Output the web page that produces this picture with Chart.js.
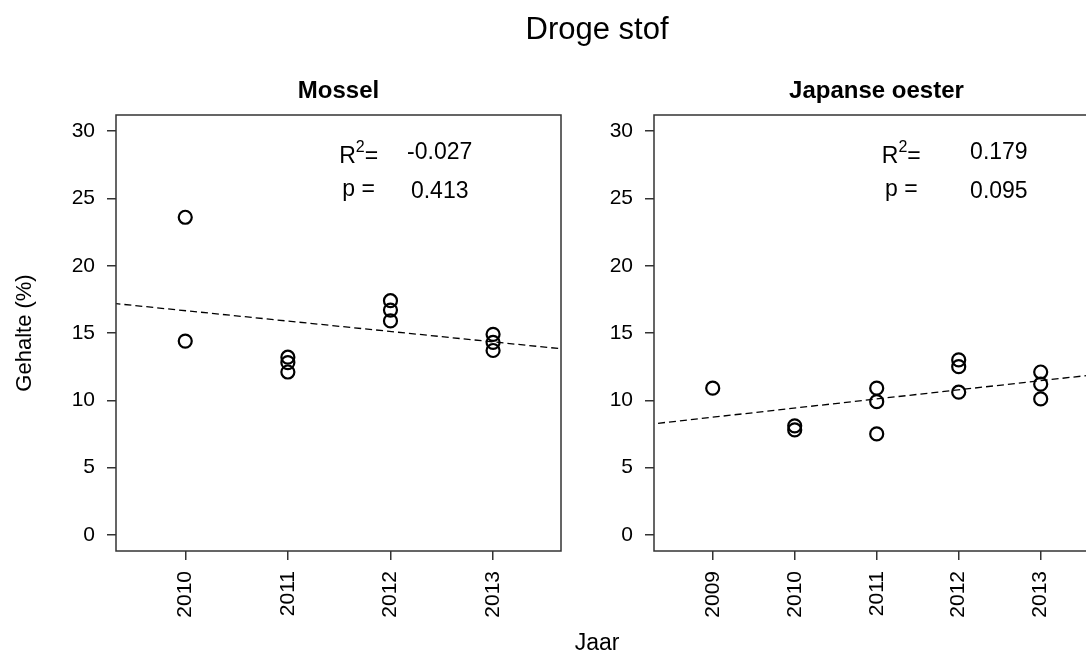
<!DOCTYPE html>
<html>
<head>
<meta charset="utf-8">
<script src="https://cdn.jsdelivr.net/npm/chart.js@4.4.1/dist/chart.umd.min.js"></script>
<style>
body { margin: 0; background: #fff; overflow: hidden; width: 1086px; height: 655px; position: relative; }
#links { position: absolute; left: 0; top: 0; }
#rechts { position: absolute; left: 600px; top: 0; }
</style>
</head>
<body>
<canvas id="links" width="1086" height="655"></canvas>
<canvas id="rechts" width="660" height="655"></canvas>
<script>
// Mossel
var jarenMossel = [2010, 2010, 2011, 2011, 2011, 2012, 2012, 2012, 2013, 2013, 2013];
var gehalteMossel = [23.6, 14.4, 13.2, 12.8, 12.1, 17.4, 16.7, 15.9, 14.9, 14.3, 13.7];
var trendJarenMossel = [2009.3, 2013.7];
var trendMossel = [17.2, 13.8];
var statsMossel = ["-0.027", "0.413"];

// Japanse oester
var jarenOester = [2009, 2010, 2010, 2011, 2011, 2011, 2012, 2012, 2012, 2013, 2013, 2013];
var gehalteOester = [10.9, 8.1, 7.8, 10.9, 9.9, 7.5, 13.0, 12.5, 10.6, 12.1, 11.2, 10.1];
var trendJarenOester = [2008.2, 2013.8];
var trendOester = [8.2, 12.0];
var statsOester = ["0.179", "0.095"];

var jaarTicksMossel = [2010, 2011, 2012, 2013];
var jaarTicksOester = [2009, 2010, 2011, 2012, 2013];
var gehalteTicks = [0, 5, 10, 15, 20, 25, 30];

var lettertype = "'Liberation Sans', Arial, sans-serif";

function punten(xs, ys) {
    return xs.map(function (x, i) { return { x: x, y: ys[i] }; });
}

var kaderPlugin = {
    id: 'kader',
    afterDraw: function (chart) {
        var ctx = chart.ctx;
        var a = chart.chartArea;
        var o = chart.options.plugins.kader;
        ctx.save();
        ctx.strokeStyle = '#333';
        ctx.lineWidth = 1.5;
        ctx.strokeRect(a.left, a.top, a.right - a.left, a.bottom - a.top);

        // paneeltitel
        ctx.fillStyle = '#000';
        ctx.font = 'bold 24px ' + lettertype;
        ctx.textAlign = 'center';
        ctx.textBaseline = 'middle';
        ctx.fillText(o.titel, (a.left + a.right) / 2, 91);

        // R2 en p
        var sx = chart.scales.x, sy = chart.scales.y;
        var lx = sx.getPixelForValue(o.labelX);
        var wx = sx.getPixelForValue(o.waardeX);
        var r1 = sy.getPixelForValue(28.4);
        var r2 = sy.getPixelForValue(25.5);
        ctx.font = '23px ' + lettertype;
        var wR = ctx.measureText('R').width;
        var wEq = ctx.measureText('=').width;
        ctx.font = '16px ' + lettertype;
        var w2 = ctx.measureText('2').width;
        var start = lx - (wR + w2 + wEq) / 2;
        ctx.textAlign = 'left';
        ctx.textBaseline = 'alphabetic';
        ctx.font = '23px ' + lettertype;
        ctx.fillText('R', start, r1 + 10);
        ctx.fillText('=', start + wR + w2, r1 + 10);
        ctx.font = '16px ' + lettertype;
        ctx.fillText('2', start + wR, r1 - 1);
        ctx.font = '23px ' + lettertype;
        ctx.textAlign = 'center';
        ctx.fillText('p =', lx, r2 + 4);
        ctx.textBaseline = 'middle';
        ctx.fillText(o.stats[0], wx, r1);
        ctx.fillText(o.stats[1], wx, r2);
        ctx.restore();
    }
};

var tekstPlugin = {
    id: 'teksten',
    afterDraw: function (chart) {
        var ctx = chart.ctx;
        ctx.save();
        ctx.fillStyle = '#000';
        ctx.textAlign = 'center';
        ctx.textBaseline = 'middle';
        ctx.font = '31px ' + lettertype;
        ctx.fillText('Droge stof', 597, 30);
        ctx.font = '23px ' + lettertype;
        ctx.fillText('Jaar', 597, 644);
        ctx.font = '22px ' + lettertype;
        ctx.translate(25, 333);
        ctx.rotate(-Math.PI / 2);
        ctx.fillText('Gehalte (%)', 0, 0);
        ctx.restore();
    }
};

function maakPaneel(canvasId, p) {
    var canvas = document.getElementById(canvasId);
    var config = {
        type: 'scatter',
        data: {
            datasets: [{
                data: punten(p.jaren, p.gehalte),
                showLine: false,
                pointStyle: 'circle',
                pointRadius: 6.5,
                pointBorderWidth: 2.2,
                borderColor: '#000',
                backgroundColor: 'rgba(0,0,0,0)'
            }, {
                data: punten(p.trendJaren, p.trend),
                showLine: true,
                borderColor: '#000',
                borderWidth: 1.3,
                borderDash: [7, 4],
                pointRadius: 0,
                fill: false
            }]
        },
        options: {
            responsive: false,
            animation: false,
            events: [],
            layout: { padding: { left: 0, top: 115, right: p.rechts, bottom: 0 } },
            plugins: {
                legend: { display: false },
                tooltip: { enabled: false },
                kader: { titel: p.titel, stats: p.stats, labelX: p.labelX, waardeX: p.waardeX }
            },
            scales: {
                x: {
                    type: 'linear',
                    min: p.xmin,
                    max: p.xmax,
                    afterBuildTicks: function (s) { s.ticks = p.jaarTicks.map(function (v) { return { value: v }; }); },
                    afterFit: function (s) { s.height = 104; },
                    ticks: {
                        autoSkip: false,
                        minRotation: 90,
                        maxRotation: 90,
                        padding: 11,
                        color: '#000',
                        font: { family: lettertype, size: 21 },
                        callback: function (v) { return String(v); }
                    },
                    grid: { drawOnChartArea: false, drawTicks: true, tickLength: 9, color: '#333', lineWidth: 1.5 },
                    border: { display: false }
                },
                y: {
                    min: -1.2,
                    max: 31.2,
                    afterBuildTicks: function (s) { s.ticks = gehalteTicks.map(function (v) { return { value: v }; }); },
                    afterFit: function (s) { s.width = p.yBreedte; },
                    ticks: {
                        padding: 12,
                        color: '#000',
                        font: { family: lettertype, size: 21 },
                        callback: function (v) { return String(v); }
                    },
                    grid: { drawOnChartArea: false, drawTicks: true, tickLength: 9, color: '#333', lineWidth: 1.5 },
                    border: { display: false }
                }
            }
        },
        plugins: p.extra ? [kaderPlugin, tekstPlugin] : [kaderPlugin]
    };
    return new Chart(canvas, config);
}

window.mossel = maakPaneel('links', {
    titel: 'Mossel',
    jaren: jarenMossel, gehalte: gehalteMossel,
    trendJaren: trendJarenMossel, trend: trendMossel,
    stats: statsMossel, jaarTicks: jaarTicksMossel,
    xmin: 2009.325, xmax: 2013.662,
    labelX: 2011.69, waardeX: 2012.48,
    yBreedte: 116, rechts: 525, extra: true
});

window.oester = maakPaneel('rechts', {
    titel: 'Japanse oester',
    jaren: jarenOester, gehalte: gehalteOester,
    trendJaren: trendJarenOester, trend: trendOester,
    stats: statsOester, jaarTicks: jaarTicksOester,
    xmin: 2008.284, xmax: 2013.711,
    labelX: 2011.30, waardeX: 2012.49,
    yBreedte: 54, rechts: 161, extra: false
});
</script>
</body>
</html>
